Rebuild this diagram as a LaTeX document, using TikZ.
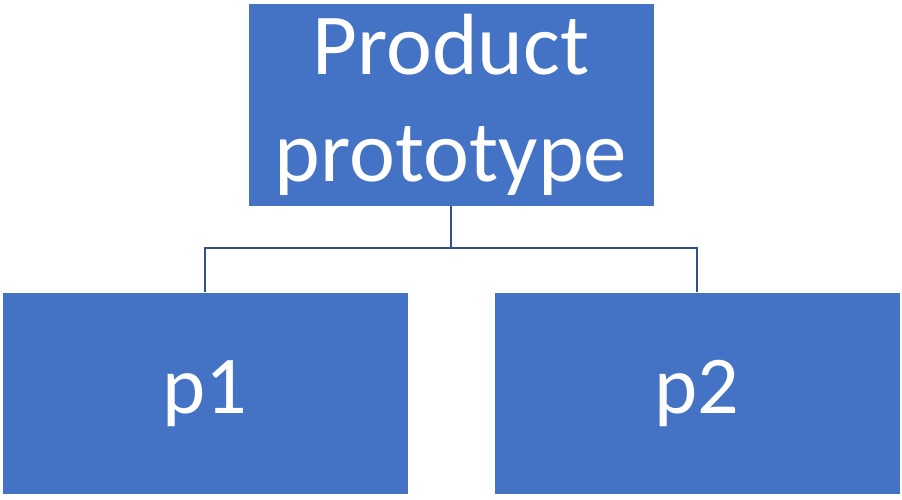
\documentclass[tikz,border=0pt]{standalone}
\usepackage{fontspec}
\setmainfont{Carlito}
\usepackage{tikz}

\definecolor{boxblue}{HTML}{4472C4}
\definecolor{lineblue}{HTML}{2F528F}

\tikzset{
  box/.style={fill=boxblue, text=white, minimum width=8.1cm, minimum height=4.03cm,
              align=center, font=\fontsize{46.7pt}{56.9pt}\selectfont},
  topbox/.style={box, font=\fontsize{49.5pt}{61pt}\selectfont},
  link/.style={draw=lineblue, line width=1.2pt}
}

\begin{document}
\begin{tikzpicture}
\useasboundingbox (0,0) rectangle (18.04,9.98);

\node[topbox] (proto) at (9.02,7.88) {Product\\prototype};
\node[box] (pone) at (4.10,2.11) {p1};
\node[box] (ptwo) at (13.94,2.11) {p2};

\coordinate (bar) at (9.02,5.02);
\draw[link] (proto.south) -- (bar);
\draw[link] (pone.north) |- (bar) -| (ptwo.north);

\end{tikzpicture}
\end{document}
